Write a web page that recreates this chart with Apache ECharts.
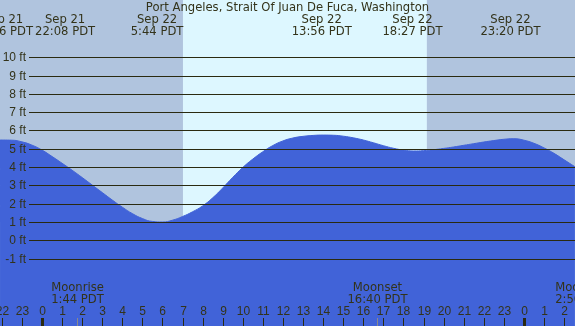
<!doctype html>
<html>
<head>
<meta charset="UTF-8">
<title>Port Angeles tide</title>
<script src="https://cdn.jsdelivr.net/npm/echarts@6/dist/echarts.min.js"></script>
<style>
  html, body { margin: 0; padding: 0; }
  #chart { width: 575px; height: 326px; }
</style>
</head>
<body>
<div id="chart"></div>
<script>
// hours relative to Sep 22 00:00 PDT
var tideHours = [-2.09, -1.5, -1, -0.5, 0, 0.5, 1, 1.5, 2, 2.5, 3, 3.5, 4, 4.5, 5, 5.5, 6, 6.5, 7, 7.5, 8, 8.5, 9, 9.5, 10, 10.5, 11, 11.5, 12, 12.5, 13, 13.5, 14, 14.5, 15, 15.5, 16, 16.5, 17, 17.5, 18, 18.5, 19, 19.5, 20, 20.5, 21, 21.5, 22, 22.5, 23, 23.5, 24, 24.5, 25, 25.5, 26, 26.54];
var tideFeet  = [5.48, 5.47, 5.38, 5.2, 4.93, 4.58, 4.21, 3.83, 3.43, 3.02, 2.61, 2.2, 1.81, 1.46, 1.19, 1.03, 1.0, 1.1, 1.3, 1.56, 1.88, 2.32, 2.86, 3.44, 3.98, 4.44, 4.84, 5.18, 5.43, 5.59, 5.68, 5.73, 5.75, 5.74, 5.69, 5.6, 5.48, 5.33, 5.17, 5.03, 4.93, 4.88, 4.9, 4.95, 5.02, 5.1, 5.19, 5.28, 5.37, 5.45, 5.52, 5.55, 5.47, 5.3, 5.05, 4.75, 4.4, 4.02];

var footTicks = [-1, 0, 1, 2, 3, 4, 5, 6, 7, 8, 9, 10];
var hourTicks = [-2, -1, 0, 1, 2, 3, 4, 5, 6, 7, 8, 9, 10, 11, 12, 13, 14, 15, 16, 17, 18, 19, 20, 21, 22, 23, 24, 25, 26];

var sunrise = 7.02, sunset = 19.17;

// tide extreme labels: where the label sits, and its two lines
var tideLabelAt = [-1.94, 1.15, 5.73, 13.93, 18.45, 23.33];
var tideLabelDay = ['Sep 21', 'Sep 21', 'Sep 22', 'Sep 22', 'Sep 22', 'Sep 22'];
var tideLabelTime = ['15:56 PDT', '22:08 PDT', '5:44 PDT', '13:56 PDT', '18:27 PDT', '23:20 PDT'];

var moonHours = [1.73, 16.67, 26.83];
var moonNames = ['Moonrise', 'Moonset', 'Moonrise'];
var moonTimes = ['1:44 PDT', '16:40 PDT', '2:50 PDT'];

var X_MIN = -2.0916, X_MAX = 26.544;
var Y_MIN = -4.683, Y_MAX = 13.131;

var TEXT = '#33331a';
var LINE = '#2a2a10';
var FONT = '12px "Liberation Sans", Arial, sans-serif';
var FONT_WIDE = '11.6px "DejaVu Sans", Verdana, sans-serif';

var chart = echarts.init(document.getElementById('chart'));

var bands = [[X_MIN, sunrise, '#b0c4de'], [sunrise, sunset, '#ddf7ff'], [sunset, X_MAX, '#b0c4de']];

var option = {
  animation: false,
  backgroundColor: '#b0c4de',
  title: {
    text: 'Port Angeles, Strait Of Juan De Fuca, Washington',
    left: 'center',
    top: 1,
    padding: 0,
    textStyle: { fontSize: 11.6, fontWeight: 'normal', color: TEXT, fontFamily: '"DejaVu Sans", Verdana, sans-serif', lineHeight: 13 }
  },
  grid: { left: 0, right: 0, top: 0, bottom: 0 },
  xAxis: { type: 'value', min: X_MIN, max: X_MAX, show: false },
  yAxis: { type: 'value', min: Y_MIN, max: Y_MAX, show: false },
  series: [
    {
      // day / night bands
      type: 'custom',
      z: 0,
      silent: true,
      data: bands.map(function(b) { return [b[0], b[1]]; }),
      renderItem: function(params, api) {
        var p0 = api.coord([api.value(0), Y_MAX]);
        var p1 = api.coord([api.value(1), Y_MIN]);
        return {
          type: 'rect',
          shape: { x: p0[0], y: p0[1], width: p1[0] - p0[0], height: p1[1] - p0[1] },
          style: { fill: bands[params.dataIndex][2] }
        };
      }
    },
    {
      type: 'line',
      z: 2,
      smooth: 0.5,
      symbol: 'none',
      lineStyle: { width: 1, color: '#4163d8' },
      areaStyle: { color: '#4163d8', opacity: 1, origin: 'start' },
      data: tideHours.map(function(h, i) { return [h, tideFeet[i]]; })
    },
    {
      // horizontal foot lines with labels
      type: 'custom',
      z: 5,
      silent: true,
      data: footTicks.map(function(v) { return [0, v]; }),
      renderItem: function(params, api) {
        var y = Math.round(api.coord([0, api.value(1)])[1]) + 0.5;
        return {
          type: 'group',
          children: [
            { type: 'line', shape: { x1: 29, y1: y, x2: 575, y2: y }, style: { stroke: LINE, lineWidth: 1 } },
            { type: 'text', style: { text: api.value(1) + ' ft', x: 26, y: y, align: 'right', verticalAlign: 'middle', fill: TEXT, font: FONT } }
          ]
        };
      }
    },
    {
      // hour ticks along the bottom
      type: 'custom',
      z: 5,
      silent: true,
      data: hourTicks.map(function(h) { return [h, 0]; }),
      renderItem: function(params, api) {
        var h = api.value(0);
        var p = api.coord([h, Y_MIN]);
        var x = Math.round(p[0]) + 0.5;
        var midnight = ((h % 24) + 24) % 24 === 0;
        return {
          type: 'group',
          children: [
            { type: 'line', shape: { x1: x, y1: p[1], x2: x, y2: p[1] - 8 }, style: { stroke: LINE, lineWidth: midnight ? 3 : 1 } },
            { type: 'text', style: { text: String(((h % 24) + 24) % 24), x: x, y: p[1] - 14, align: 'center', verticalAlign: 'middle', fill: TEXT, font: FONT } }
          ]
        };
      }
    },
    {
      // moonrise / moonset
      type: 'custom',
      z: 5,
      silent: true,
      data: moonHours.map(function(h) { return [h, 0]; }),
      renderItem: function(params, api) {
        var i = params.dataIndex;
        var p = api.coord([api.value(0), Y_MIN]);
        var x = Math.round(p[0]) + 0.5;
        return {
          type: 'group',
          children: [
            { type: 'line', shape: { x1: x, y1: p[1], x2: x, y2: p[1] - 8 }, style: { stroke: '#8a8a8a', lineWidth: 1 } },
            { type: 'text', style: { text: moonNames[i], x: x, y: p[1] - 38.5, align: 'center', verticalAlign: 'middle', fill: TEXT, font: FONT_WIDE } },
            { type: 'text', style: { text: moonTimes[i], x: x, y: p[1] - 26.5, align: 'center', verticalAlign: 'middle', fill: TEXT, font: FONT_WIDE } }
          ]
        };
      }
    },
    {
      // tide extreme labels on top
      type: 'custom',
      z: 5,
      silent: true,
      data: tideLabelAt.map(function(h) { return [h, 0]; }),
      renderItem: function(params, api) {
        var i = params.dataIndex;
        var p = api.coord([api.value(0), Y_MAX]);
        return {
          type: 'group',
          children: [
            { type: 'text', style: { text: tideLabelDay[i], x: p[0], y: p[1] + 20, align: 'center', verticalAlign: 'middle', fill: TEXT, font: FONT_WIDE } },
            { type: 'text', style: { text: tideLabelTime[i], x: p[0], y: p[1] + 32, align: 'center', verticalAlign: 'middle', fill: TEXT, font: FONT_WIDE } }
          ]
        };
      }
    }
  ]
};

chart.setOption(option);
</script>
</body>
</html>
